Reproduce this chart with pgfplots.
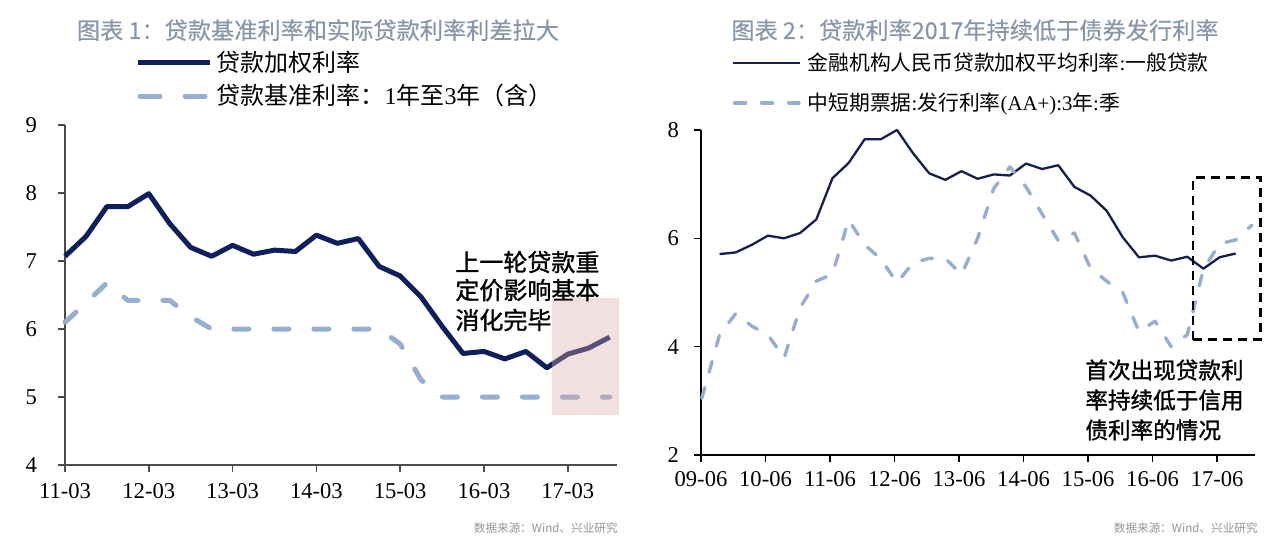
\documentclass[border=0pt]{standalone}
\usepackage{fontspec}
\setmainfont{Liberation Serif}
\newfontfamily\cjk{Noto Sans CJK SC}
\newfontfamily\cjkb[FakeBold=1.2]{Noto Sans CJK SC}
\newfontfamily\cjkt[FakeBold=0.4]{Noto Sans CJK SC}
\usepackage{pgfplots}
\pgfplotsset{compat=1.18}
\usepackage{pgfplotstable}

\definecolor{navyL}{RGB}{14,31,91}
\definecolor{navyR}{RGB}{22,30,75}
\definecolor{lblue}{RGB}{150,174,207}
\definecolor{ttl}{RGB}{136,150,170}
\definecolor{pinkbox}{RGB}{220,169,171}
\definecolor{srcgray}{RGB}{150,150,150}

\pgfplotsset{
  legSolidL/.style={legend image code/.code={\draw[##1] (0bp,0bp) -- (36bp,0bp);}},
  legDashL/.style={legend image code/.code={\draw[##1, dash pattern=on 10bp off 12.5bp] (1.25bp,0bp) -- (34.75bp,0bp);}},
  legSolidR/.style={legend image code/.code={\draw[##1] (0bp,0bp) -- (33.5bp,0bp);}},
  legDashR/.style={legend image code/.code={\draw[##1] (0.85bp,0bp) -- (33bp,0bp);}},
}

% left chart: quarters from 11-03
\pgfplotstableread{
x y
0 7.07
1 7.36
2 7.80
3 7.80
4 7.99
5 7.55
6 7.20
7 7.07
8 7.23
9 7.10
10 7.16
11 7.14
12 7.38
13 7.26
14 7.33
15 6.92
16 6.78
17 6.47
18 6.04
19 5.64
20 5.67
21 5.56
22 5.67
23 5.43
24 5.63
25 5.72
26 5.88
}\loanL
\pgfplotstableread{
x y
0 6.10
1 6.38
2 6.68
3 6.42
4 6.42
5 6.42
6 6.18
7 6.00
8 6.00
9 6.00
10 6.00
11 6.00
12 6.00
13 6.00
14 6.00
15 6.00
16 5.78
17 5.25
18 5.00
19 5.00
20 5.00
21 5.00
22 5.00
23 5.00
24 5.00
25 5.00
26 5.00
}\baseL
% right chart: quarters from 09-06
\pgfplotstableread{
x y
1.15 5.71
2.15 5.74
3.15 5.88
4.15 6.05
5.15 6.00
6.15 6.10
7.15 6.35
8.15 7.11
9.15 7.39
10.15 7.83
11.15 7.83
12.15 8.00
13.15 7.57
14.15 7.20
15.15 7.08
16.15 7.24
17.15 7.10
18.15 7.18
19.15 7.16
20.15 7.38
21.15 7.28
22.15 7.35
23.15 6.95
24.15 6.79
25.15 6.51
26.15 6.02
27.15 5.65
28.15 5.68
29.15 5.59
30.15 5.66
31.15 5.44
32.15 5.65
33.15 5.72
}\loanR
\pgfplotstableread{
x y
0.05 3.05
1.15 4.22
2.15 4.61
3.15 4.38
4.15 4.22
5.15 3.79
6.15 4.72
7.15 5.21
8.15 5.34
9.15 6.34
10.15 5.88
11.15 5.62
12.15 5.18
13.15 5.55
14.15 5.63
15.15 5.63
16.15 5.33
17.15 6.00
18.15 6.92
19.15 7.32
20.15 6.95
21.15 6.45
22.15 5.96
23.15 6.10
24.15 5.45
25.15 5.21
26.15 5.00
27.15 4.28
28.15 4.47
29.15 4.00
30.15 4.22
31.15 5.43
32.15 5.90
33.15 5.97
34.15 6.24
}\noteR

\begin{document}
\begin{tikzpicture}
\fill[white] (0,0) rectangle (640bp,273.5bp);

% ---------------- left chart ----------------
\begin{axis}[
  at={(32.5bp,41bp)}, anchor=south west, scale only axis,
  width=276bp, height=170bp,
  xmin=0, xmax=26.35, ymin=4, ymax=9,
  axis x line*=bottom, axis y line*=left,
  axis line style={draw=black!70, line width=1bp},
  xtick={0,4,...,24},
  xticklabels={11-03,12-03,13-03,14-03,15-03,16-03,17-03},
  ytick={4,5,6,7,8,9},
  tick align=outside, major tick length=3.5bp,
  tick style={draw=black!70, line width=0.8bp},
  /pgf/number format/assume math mode=true,
  tick label style={font=\fontsize{11.3bp}{11.3bp}\selectfont},
  yticklabel style={xshift=-7bp},
  xticklabel style={yshift=-2bp},
  clip=false,
  legend cell align=left,
  legend style={draw=none, fill=none, at={(0.127,1.2176)}, anchor=north west,
    inner sep=0pt, outer sep=0pt, row sep=5bp, column sep=2.2bp,
    nodes={inner sep=0pt},
    font=\fontsize{12bp}{12bp}\selectfont},
]
\addplot[navyL, line width=2.5bp, line join=round, legSolidL]
  table[x=x,y=y] {\loanL};
\addlegendentry{{\cjk 贷款加权利率}}
\addplot[lblue, line width=2.5bp, line cap=round, line join=round,
  dash pattern=on 7.5bp off 12.5bp, legDashL]
  table[x=x,y=y] {\baseL};
\addlegendentry{{\cjk 贷款基准利率：}1{\cjk 年至}3{\cjk 年（含）}}
\fill[pinkbox, opacity=0.37] (axis cs:23.26,4.73) rectangle (axis cs:26.44,6.46);
\end{axis}

% ---------------- right chart ----------------
\begin{axis}[
  at={(350.5bp,46bp)}, anchor=south west, scale only axis,
  width=277bp, height=162.5bp,
  xmin=0, xmax=34.35, ymin=2, ymax=8,
  axis x line*=bottom, axis y line*=left,
  axis line style={draw=black, line width=1.1bp},
  xtick={0,4,...,32},
  xticklabels={09-06,10-06,11-06,12-06,13-06,14-06,15-06,16-06,17-06},
  ytick={2,4,6,8},
  tick align=outside, major tick length=3.5bp,
  tick style={draw=black, line width=0.8bp},
  /pgf/number format/assume math mode=true,
  tick label style={font=\fontsize{11.3bp}{11.3bp}\selectfont},
  yticklabel style={xshift=-4bp},
  xticklabel style={yshift=-1bp},
  clip=false,
  legend cell align=left,
  legend style={draw=none, fill=none, at={(0.0555,1.238)}, anchor=north west,
    inner sep=0pt, outer sep=0pt, row sep=9.6bp, column sep=3.3bp,
    nodes={inner sep=0pt},
    font=\fontsize{10.4bp}{10.4bp}\selectfont},
]
\addplot[navyR, line width=1.15bp, line join=round, legSolidR]
  table[x=x,y=y] {\loanR};
\addlegendentry{{\cjk 金融机构人民币贷款加权平均利率}:{\cjk 一般贷款}}
\addplot[lblue, line width=1.7bp, line cap=round, line join=round,
  dash pattern=on 5.5bp off 8bp, legDashR]
  table[x=x,y=y] {\noteR};
\addlegendentry{{\cjk 中短期票据}:{\cjk 发行利率}(AA+):3{\cjk 年}:{\cjk 季}}
\draw[black, line width=1.4bp, dash pattern=on 4.5bp off 3bp]
  (axis cs:30.5,4.13) rectangle (axis cs:34.68,7.12);
\end{axis}

% ---------------- titles & notes ----------------
\node[anchor=base, inner sep=0pt, text=ttl, font=\cjkt\fontsize{11.6bp}{11.6bp}\selectfont]
  at (159bp,254bp) {图表 1：贷款基准利率和实际贷款利率利差拉大};
\node[anchor=base, inner sep=0pt, text=ttl, font=\cjkt\fontsize{11.6bp}{11.6bp}\selectfont]
  at (487.5bp,254bp) {图表 2：贷款利率2017年持续低于债券发行利率};

\begin{scope}[every node/.style={anchor=base west, inner sep=0pt, font=\cjkb\fontsize{12bp}{12bp}\selectfont}]
\node at (227.5bp,137.9bp) {上一轮贷款重};
\node at (227.5bp,123.9bp) {定价影响基本};
\node at (227.5bp,108.9bp) {消化完毕};
\end{scope}
\begin{scope}[every node/.style={anchor=base west, inner sep=0pt, font=\cjkb\fontsize{11.3bp}{11.3bp}\selectfont}]
\node at (542.5bp,84.2bp) {首次出现贷款利};
\node at (542.5bp,69.2bp) {率持续低于信用};
\node at (542.5bp,54.2bp) {债利率的情况};
\end{scope}

\node[anchor=base east, inner sep=0pt, text=srcgray, font=\cjk\fontsize{5.8bp}{5.8bp}\selectfont]
  at (309bp,7.3bp) {数据来源：Wind、兴业研究};
\node[anchor=base east, inner sep=0pt, text=srcgray, font=\cjk\fontsize{5.8bp}{5.8bp}\selectfont]
  at (629bp,7.3bp) {数据来源：Wind、兴业研究};

\pgfresetboundingbox
\useasboundingbox (0,0) rectangle (640bp,273.5bp);
\end{tikzpicture}
\end{document}
